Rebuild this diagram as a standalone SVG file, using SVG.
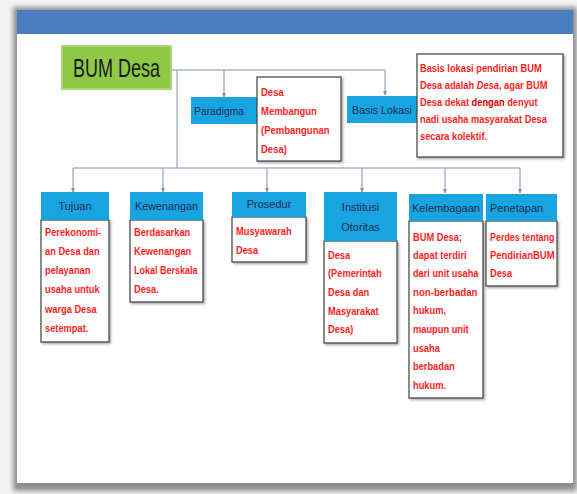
<svg xmlns="http://www.w3.org/2000/svg" width="577" height="494" viewBox="0 0 577 494">
<defs>
<filter id="blur" x="-5%" y="-5%" width="110%" height="110%"><feGaussianBlur stdDeviation="2.5"/></filter>
<filter id="sh" x="-10%" y="-10%" width="130%" height="130%"><feDropShadow dx="1.5" dy="1.5" stdDeviation="0.8" flood-color="#000" flood-opacity="0.35"/></filter>
<marker id="arr" markerWidth="5" markerHeight="5" refX="4" refY="2.5" orient="auto" markerUnits="userSpaceOnUse"><path d="M0,0.5 L4.5,2.5 L0,4.5 z" fill="#7D93B2"/></marker>
<style>
.hdr{fill:#17A4E0;}
.body{fill:#fff;stroke:#3F3F3F;stroke-width:1.2;filter:url(#sh);}
.ht{font-family:"Liberation Sans",Arial,sans-serif;font-size:11px;fill:#1E2B55;}
.rt{font-family:"Liberation Sans",Arial,sans-serif;font-size:10.8px;font-weight:bold;fill:#FF1E1E;}
.con{fill:none;stroke:#7D93B2;stroke-width:1;}
</style>
</defs>
<rect width="577" height="494" fill="#f4f4f4"/>
<rect x="13" y="7" width="564" height="484" fill="#8e8e8e" filter="url(#blur)"/>
<rect x="17" y="10" width="556" height="473" fill="#fff"/>
<rect x="17" y="10" width="556" height="24" fill="#4A7DC0"/>

<g id="connectors">
<path class="con" d="M171,70 H385"/>
<path class="con" d="M224,70 V97" marker-end="url(#arr)"/>
<path class="con" d="M385,70 V95" marker-end="url(#arr)"/>
<path class="con" d="M177,70 V168"/>
<path class="con" d="M73,168 H520"/>
<path class="con" d="M73,168 V192" marker-end="url(#arr)"/>
<path class="con" d="M163,168 V192" marker-end="url(#arr)"/>
<path class="con" d="M267,168 V192" marker-end="url(#arr)"/>
<path class="con" d="M362,168 V192" marker-end="url(#arr)"/>
<path class="con" d="M445,168 V193" marker-end="url(#arr)"/>
<path class="con" d="M520,168 V193" marker-end="url(#arr)"/>
</g>

<g id="bum-desa">
<rect x="62" y="46" width="109" height="43" fill="#8DC944" stroke="#A9D874" stroke-width="2"/>
<text x="73" y="77" font-family="'Liberation Sans',Arial,sans-serif" font-size="25" fill="#1A1A1A" textLength="87" lengthAdjust="spacingAndGlyphs">BUM Desa</text>
</g>

<g id="paradigma">
<rect class="hdr" x="191" y="97" width="67" height="27"/>
<text class="ht" x="194" y="115" textLength="50" lengthAdjust="spacingAndGlyphs">Paradigma</text>
</g>
<g id="desa-membangun">
<rect class="body" x="257" y="77" width="84" height="84"/>
<g transform="matrix(0.88 0 0 1 261 0)">
<text class="rt" x="0" y="96">Desa</text>
<text class="rt" x="0" y="115">Membangun</text>
<text class="rt" x="0" y="134">(Pembangunan</text>
<text class="rt" x="0" y="153">Desa)</text>
</g>
</g>

<g id="basis-lokasi">
<rect class="hdr" x="347" y="96" width="70" height="27"/>
<text class="ht" x="382" y="114" text-anchor="middle" textLength="60" lengthAdjust="spacingAndGlyphs">Basis Lokasi</text>
</g>
<g id="basis-lokasi-desc">
<rect class="body" x="417" y="54" width="146" height="103"/>
<g transform="matrix(0.86 0 0 1 420 0)">
<text class="rt" x="0" y="72">Basis lokasi pendirian BUM</text>
<text class="rt" x="0" y="89">Desa adalah <tspan font-style="italic">Desa</tspan>, agar BUM</text>
<text class="rt" x="0" y="106">Desa dekat <tspan fill="#D00000">dengan</tspan> denyut</text>
<text class="rt" x="0" y="123">nadi usaha masyarakat Desa</text>
<text class="rt" x="0" y="140">secara kolektif.</text>
</g>
</g>

<g id="tujuan">
<rect class="body" x="41" y="220" width="68" height="122"/>
<rect class="hdr" x="41" y="192" width="68" height="28"/>
<text class="ht" x="75" y="210" text-anchor="middle">Tujuan</text>
<g transform="matrix(0.86 0 0 1 45 0)">
<text class="rt" x="0" y="236">Perekonomi-</text>
<text class="rt" x="0" y="255">an Desa dan</text>
<text class="rt" x="0" y="274">pelayanan</text>
<text class="rt" x="0" y="293">usaha untuk</text>
<text class="rt" x="0" y="313">warga Desa</text>
<text class="rt" x="0" y="332">setempat.</text>
</g>
</g>

<g id="kewenangan">
<rect class="body" x="130" y="220" width="73" height="82"/>
<rect class="hdr" x="130" y="192" width="73" height="28"/>
<text class="ht" x="166.5" y="210" text-anchor="middle" textLength="63" lengthAdjust="spacingAndGlyphs">Kewenangan</text>
<g transform="matrix(0.86 0 0 1 134 0)">
<text class="rt" x="0" y="236">Berdasarkan</text>
<text class="rt" x="0" y="255">Kewenangan</text>
<text class="rt" x="0" y="274" textLength="74" lengthAdjust="spacingAndGlyphs">Lokal Berskala</text>
<text class="rt" x="0" y="293">Desa.</text>
</g>
</g>

<g id="prosedur">
<rect class="body" x="232" y="217" width="74" height="45"/>
<rect class="hdr" x="232" y="192" width="74" height="25"/>
<text class="ht" x="269" y="208" text-anchor="middle">Prosedur</text>
<g transform="matrix(0.86 0 0 1 236 0)">
<text class="rt" x="0" y="235">Musyawarah</text>
<text class="rt" x="0" y="254">Desa</text>
</g>
</g>

<g id="institusi-otoritas">
<rect class="body" x="324" y="241" width="73" height="102"/>
<rect class="hdr" x="324" y="192" width="73" height="49"/>
<text class="ht" x="360.5" y="211" text-anchor="middle">Institusi</text>
<text class="ht" x="360.5" y="231" text-anchor="middle">Otoritas</text>
<g transform="matrix(0.86 0 0 1 328 0)">
<text class="rt" x="0" y="259">Desa</text>
<text class="rt" x="0" y="277">(Pemerintah</text>
<text class="rt" x="0" y="296">Desa dan</text>
<text class="rt" x="0" y="315">Masyarakat</text>
<text class="rt" x="0" y="333">Desa)</text>
</g>
</g>

<g id="kelembagaan">
<rect class="body" x="409" y="221" width="74" height="177"/>
<rect class="hdr" x="409" y="194" width="74" height="27"/>
<text class="ht" x="446" y="212" text-anchor="middle" textLength="68" lengthAdjust="spacingAndGlyphs">Kelembagaan</text>
<g transform="matrix(0.86 0 0 1 413 0)">
<text class="rt" x="0" y="241">BUM Desa;</text>
<text class="rt" x="0" y="259">dapat terdiri</text>
<text class="rt" x="0" y="277" textLength="76" lengthAdjust="spacingAndGlyphs">dari unit usaha</text>
<text class="rt" x="0" y="296" textLength="75" lengthAdjust="spacingAndGlyphs">non-berbadan</text>
<text class="rt" x="0" y="314">hukum,</text>
<text class="rt" x="0" y="333">maupun unit</text>
<text class="rt" x="0" y="352">usaha</text>
<text class="rt" x="0" y="370">berbadan</text>
<text class="rt" x="0" y="389">hukum.</text>
</g>
</g>

<g id="penetapan">
<rect class="body" x="486" y="221" width="71" height="65"/>
<rect class="hdr" x="486" y="194" width="71" height="27"/>
<text class="ht" x="490" y="212">Penetapan</text>
<g transform="matrix(0.86 0 0 1 490 0)">
<text class="rt" x="0" y="241" textLength="75" lengthAdjust="spacingAndGlyphs">Perdes tentang</text>
<text class="rt" x="0" y="259" textLength="75" lengthAdjust="spacingAndGlyphs">PendirianBUM</text>
<text class="rt" x="0" y="277">Desa</text>
</g>
</g>
</svg>
